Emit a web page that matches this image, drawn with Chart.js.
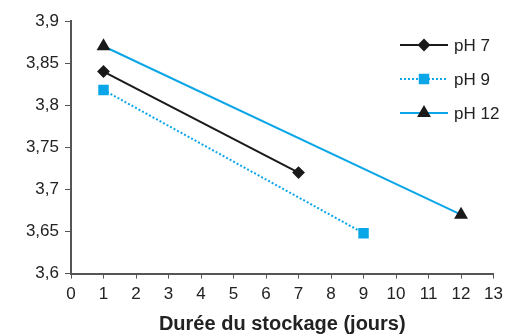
<!DOCTYPE html>
<html>
<head>
<meta charset="utf-8">
<script src="https://cdn.jsdelivr.net/npm/chart.js@4"></script>
<style>
  html, body { margin: 0; padding: 0; background: #fff; }
  #wrap { width: 509px; height: 336px; }
</style>
</head>
<body>
<div id="wrap"><canvas id="chart" width="509" height="336"></canvas></div>
<script>
const seriesNames = ['pH 7', 'pH 9', 'pH 12']
const daysPH7 = [1, 7]
const valuesPH7 = [3.84, 3.72]
const daysPH9 = [1, 9]
const valuesPH9 = [3.818, 3.648]
const daysPH12 = [1, 12]
const valuesPH12 = [3.87, 3.67]
const xTitle = 'Durée du stockage (jours)'

const toPoints = (xs, ys) => xs.map((x, i) => ({ x: x, y: ys[i] }))
const blue = '#0aa6e8'
const dark = '#1a1a1a'
const font = "'Liberation Sans', Arial, sans-serif"

// legend drawn by hand: a line sample with the marker in its middle
const lineLegend = {
  id: 'lineLegend',
  afterDraw(chart) {
    const ctx = chart.ctx
    const rows = [45, 79, 113]
    chart.data.datasets.forEach((ds, i) => {
      const y = rows[i]
      const x0 = 400, x1 = 448
      ctx.save()
      ctx.strokeStyle = ds.borderColor
      ctx.lineWidth = ds.borderWidth
      ctx.setLineDash(ds.borderDash || [])
      ctx.beginPath()
      ctx.moveTo(x0, y)
      ctx.lineTo(x1, y)
      ctx.stroke()
      ctx.setLineDash([])
      ctx.fillStyle = ds.pointBackgroundColor
      ctx.strokeStyle = ds.pointBorderColor
      Chart.helpers.drawPoint(ctx, {
        pointStyle: ds.pointStyle,
        radius: ds.pointRadius,
        borderWidth: 1
      }, (x0 + x1) / 2, y)
      ctx.fillStyle = '#222'
      ctx.font = '17px ' + font
      ctx.textBaseline = 'middle'
      ctx.fillText(ds.label, 454, y + 1)
      ctx.restore()
    })
  }
}

const config = {
  type: 'line',
  data: {
    datasets: [
      {
        label: seriesNames[0],
        data: toPoints(daysPH7, valuesPH7),
        borderColor: dark,
        backgroundColor: dark,
        pointBackgroundColor: dark,
        pointBorderColor: dark,
        borderWidth: 2,
        pointStyle: 'rectRot',
        pointRadius: 5
      },
      {
        label: seriesNames[1],
        data: toPoints(daysPH9, valuesPH9),
        borderColor: blue,
        backgroundColor: blue,
        pointBackgroundColor: blue,
        pointBorderColor: blue,
        borderWidth: 2,
        borderDash: [2, 2],
        pointStyle: 'rect',
        pointRadius: 6
      },
      {
        label: seriesNames[2],
        data: toPoints(daysPH12, valuesPH12),
        borderColor: blue,
        backgroundColor: dark,
        pointBackgroundColor: dark,
        pointBorderColor: dark,
        borderWidth: 2,
        pointStyle: 'triangle',
        pointRadius: 6
      }
    ]
  },
  options: {
    responsive: false,
    animation: false,
    layout: { padding: { top: 21, right: 14, left: 0, bottom: 0 } },
    plugins: {
      legend: { display: false },
      tooltip: { enabled: false }
    },
    scales: {
      x: {
        type: 'linear',
        min: 0,
        max: 13,
        ticks: {
          stepSize: 1,
          color: '#222',
          font: { family: font, size: 17 },
          padding: 6
        },
        grid: { drawOnChartArea: false, drawTicks: true, tickLength: 5, color: '#555' },
        border: { color: '#555', width: 2 },
        title: {
          display: true,
          text: xTitle,
          color: '#222',
          font: { family: font, size: 20, weight: 'bold' },
          padding: { top: 1, bottom: 0 }
        }
      },
      y: {
        min: 3.6,
        max: 3.9,
        ticks: {
          stepSize: 0.05,
          color: '#222',
          font: { family: font, size: 17 },
          padding: 6,
          callback: v => String(Math.round(v * 100) / 100).replace('.', ',')
        },
        grid: { drawOnChartArea: false, drawTicks: true, tickLength: 6, color: '#555' },
        border: { color: '#555', width: 2 },
        afterFit: scale => { scale.width = 71 }
      }
    }
  },
  plugins: [lineLegend]
}

new Chart(document.getElementById('chart'), config)
</script>
</body>
</html>
